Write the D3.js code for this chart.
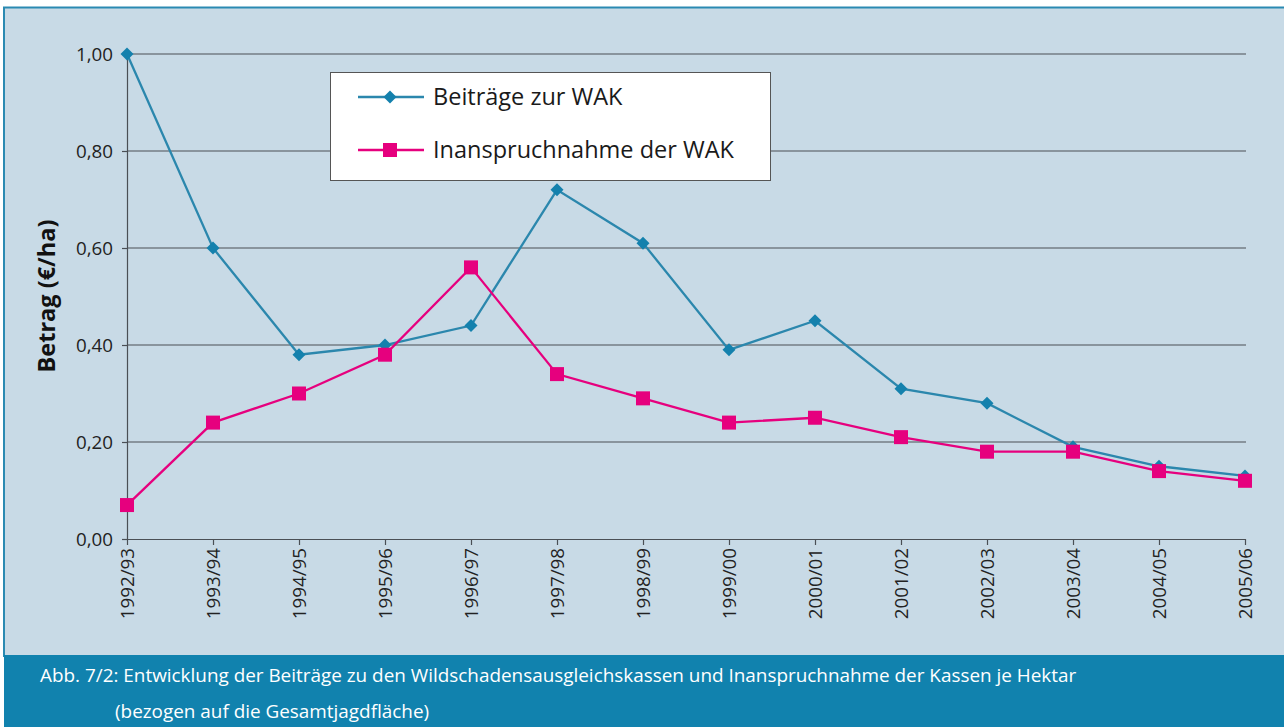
<!DOCTYPE html>
<html>
<head>
<meta charset="utf-8">
<script src="https://cdn.jsdelivr.net/npm/d3@7"></script>
<style>
  html, body { margin: 0; padding: 0; background: #fff; }
  svg { display: block; font-family: "Open Sans", "Noto Sans", sans-serif; }
</style>
</head>
<body>
<svg id="chart" width="1284" height="727"></svg>
<script>
// Chart data
const seasons = ['1992/93', '1993/94', '1994/95', '1995/96', '1996/97', '1997/98', '1998/99',
  '1999/00', '2000/01', '2001/02', '2002/03', '2003/04', '2004/05', '2005/06'];
const beitraege = [1.00, 0.60, 0.38, 0.40, 0.44, 0.72, 0.61, 0.39, 0.45, 0.31, 0.28, 0.19, 0.15, 0.13];
const inanspruchnahme = [0.07, 0.24, 0.30, 0.38, 0.56, 0.34, 0.29, 0.24, 0.25, 0.21, 0.18, 0.18, 0.14, 0.12];
const yTicks = [0, 0.2, 0.4, 0.6, 0.8, 1.0];
const seriesNames = ['Beiträge zur WAK', 'Inanspruchnahme der WAK'];
const captionLines = [
  'Abb. 7/2: Entwicklung der Beiträge zu den Wildschadensausgleichskassen und Inanspruchnahme der Kassen je Hektar',
  '(bezogen auf die Gesamtjagdfläche)'
];

const blue = '#2b87ad';
const blueMark = '#1481ad';
const pink = '#e6007e';
const tickFont = '18.8px';

const svg = d3.select('#chart');

// panel background + frame
svg.append('rect').attr('x', 0).attr('y', 0).attr('width', 1284).attr('height', 727).attr('fill', '#ffffff');
svg.append('rect').attr('x', 4).attr('y', 7).attr('width', 1280).attr('height', 650).attr('fill', '#c8dae6');
svg.append('line').attr('x1', 3).attr('x2', 1284).attr('y1', 7.5).attr('y2', 7.5)
  .attr('stroke', '#2a8ab2').attr('stroke-width', 2);
svg.append('line').attr('x1', 4).attr('x2', 4).attr('y1', 7).attr('y2', 657)
  .attr('stroke', '#2a8ab2').attr('stroke-width', 2);

// caption band
svg.append('rect').attr('x', 4).attr('y', 655).attr('width', 1280).attr('height', 72).attr('fill', '#1182ae');
svg.append('text').attr('x', 40).attr('y', 682).attr('fill', '#fff')
  .style('font-size', '18.9px').text(captionLines[0]);
svg.append('text').attr('x', 115).attr('y', 718).attr('fill', '#fff')
  .style('font-size', '18.9px').text(captionLines[1]);

// scales
const x = d3.scalePoint().domain(seasons).range([127, 1245]);
const y = d3.scaleLinear().domain([0, 1]).range([539, 54]);

const g = svg.append('g');

// gridlines
g.selectAll('.grid').data(yTicks.filter(d => d > 0)).enter().append('line')
  .attr('class', 'grid')
  .attr('x1', 127).attr('x2', 1246)
  .attr('y1', d => y(d)).attr('y2', d => y(d))
  .attr('stroke', '#4a4f55').attr('stroke-width', 1.2);

// y axis
const yAxis = g.append('g').attr('transform', 'translate(127,0)')
  .call(d3.axisLeft(y).tickValues(yTicks).tickSize(5).tickPadding(9)
    .tickFormat(d => d3.format('.2f')(d).replace('.', ',')));
yAxis.select('.domain').attr('stroke', '#4a4f55').attr('stroke-width', 1.2);
yAxis.selectAll('.tick line').attr('stroke', '#4a4f55').attr('stroke-width', 1.2);
yAxis.selectAll('.tick text').attr('fill', '#222').style('font-size', tickFont)
  .style('font-family', '"Open Sans", "Noto Sans", sans-serif');

// x axis
const xAxis = g.append('g').attr('transform', 'translate(0,539)')
  .call(d3.axisBottom(x).tickSize(6).tickSizeOuter(0));
xAxis.select('.domain').attr('stroke', '#4a4f55').attr('stroke-width', 1.2);
xAxis.selectAll('.tick line').attr('stroke', '#4a4f55').attr('stroke-width', 1.2);
xAxis.selectAll('.tick text')
  .attr('fill', '#222').style('font-size', tickFont)
  .style('font-family', '"Open Sans", "Noto Sans", sans-serif')
  .attr('text-anchor', 'end')
  .attr('transform', 'rotate(-90)')
  .attr('x', -9).attr('y', 0).attr('dy', '0.35em');

// y axis title
svg.append('text')
  .attr('transform', 'translate(55,296) rotate(-90)')
  .attr('text-anchor', 'middle')
  .attr('fill', '#111')
  .style('font-size', '23.5px').style('font-weight', 'bold')
  .text('Betrag (€/ha)');

// lines
const line = d3.line().x((d, i) => x(seasons[i])).y(d => y(d));

g.append('path').datum(beitraege).attr('d', line)
  .attr('fill', 'none').attr('stroke', blue).attr('stroke-width', 2.3);
g.append('path').datum(inanspruchnahme).attr('d', line)
  .attr('fill', 'none').attr('stroke', pink).attr('stroke-width', 2.3);

const diamond = d3.symbol().type(d3.symbolSquare).size(85);
g.selectAll('.dia').data(beitraege).enter().append('path')
  .attr('class', 'dia')
  .attr('d', diamond)
  .attr('transform', (d, i) => `translate(${x(seasons[i])},${y(d)}) rotate(45)`)
  .attr('fill', blueMark);

g.selectAll('.sq').data(inanspruchnahme).enter().append('rect')
  .attr('class', 'sq')
  .attr('x', (d, i) => x(seasons[i]) - 7)
  .attr('y', d => y(d) - 7)
  .attr('width', 14).attr('height', 14)
  .attr('fill', pink);

// legend
const legend = svg.append('g').attr('transform', 'translate(330,72)');
legend.append('rect').attr('x', 0.5).attr('y', 0.5).attr('width', 440).attr('height', 108)
  .attr('fill', '#fff').attr('stroke', '#555').attr('stroke-width', 1);
const legendItems = [
  { name: seriesNames[0], color: blue, mark: 'diamond', yy: 25 },
  { name: seriesNames[1], color: pink, mark: 'square', yy: 78 }
];
legendItems.forEach(it => {
  legend.append('line').attr('x1', 28).attr('x2', 94).attr('y1', it.yy).attr('y2', it.yy)
    .attr('stroke', it.color).attr('stroke-width', 2.3);
  if (it.mark === 'diamond') {
    legend.append('path').attr('d', diamond)
      .attr('transform', `translate(60,${it.yy}) rotate(45)`).attr('fill', blueMark);
  } else {
    legend.append('rect').attr('x', 53).attr('y', it.yy - 7).attr('width', 14).attr('height', 14)
      .attr('fill', pink);
  }
  legend.append('text').attr('x', 103).attr('y', it.yy).attr('dy', '0.35em')
    .attr('fill', '#1a1a1a').style('font-size', '23.5px').text(it.name);
});
</script>
</body>
</html>
